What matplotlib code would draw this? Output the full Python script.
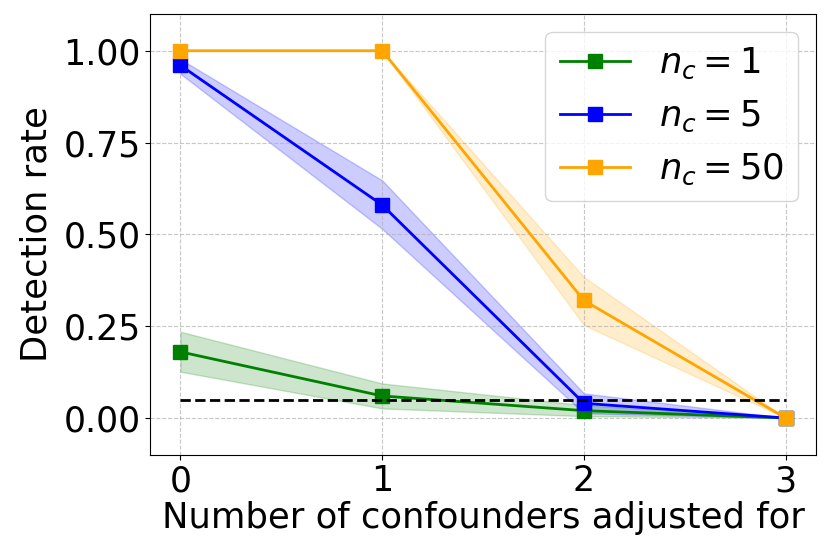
import numpy as np
import matplotlib
matplotlib.use("Agg")
import matplotlib.pyplot as plt

# data
n_adjusted = [0, 1, 2, 3]
labels = [r"$n_c = 1$", r"$n_c = 5$", r"$n_c = 50$"]
colors = ["green", "blue", "orange"]

rate_nc1 = [0.18, 0.06, 0.02, 0.0]
lo_nc1 = [0.126, 0.026, 0.005, 0.0]
hi_nc1 = [0.235, 0.094, 0.035, 0.0]

rate_nc5 = [0.96, 0.58, 0.04, 0.0]
lo_nc5 = [0.937, 0.515, 0.013, 0.0]
hi_nc5 = [0.977, 0.647, 0.067, 0.0]

rate_nc50 = [1.0, 1.0, 0.32, 0.0]
lo_nc50 = [1.0, 1.0, 0.253, 0.0]
hi_nc50 = [1.0, 1.0, 0.384, 0.0]

alpha_level = 0.05

rates = [rate_nc1, rate_nc5, rate_nc50]
los = [lo_nc1, lo_nc5, lo_nc50]
his = [hi_nc1, hi_nc5, hi_nc50]

fig = plt.figure(figsize=(8.3, 5.6), dpi=100)
ax = fig.add_axes([0.181, 0.188, 0.802, 0.787])

for r, lo, hi, c, lab in zip(rates, los, his, colors, labels):
    ax.plot(n_adjusted, r, marker="s", color=c, lw=2, ms=10, label=lab)
    ax.fill_between(n_adjusted, lo, hi, color=c, alpha=0.2)

ax.plot([n_adjusted[0], n_adjusted[-1]], [alpha_level, alpha_level], "k--", lw=2)

ax.set_xlim(-0.15, 3.15)
ax.set_ylim(-0.1, 1.1)
ax.set_xticks(n_adjusted)
ax.set_yticks([0, 0.25, 0.5, 0.75, 1.0])
ax.set_yticklabels(["0.00", "0.25", "0.50", "0.75", "1.00"])
ax.tick_params(labelsize=25)
ax.grid(True, linestyle="--", alpha=0.7)
ax.set_xlabel("Number of confounders adjusted for", fontsize=25.5, labelpad=2)
ax.set_ylabel("Detection rate", fontsize=25.5, labelpad=7)
ax.legend(fontsize=25.5, loc="upper right", handlelength=2)

fig.savefig("out.png", dpi=100)
